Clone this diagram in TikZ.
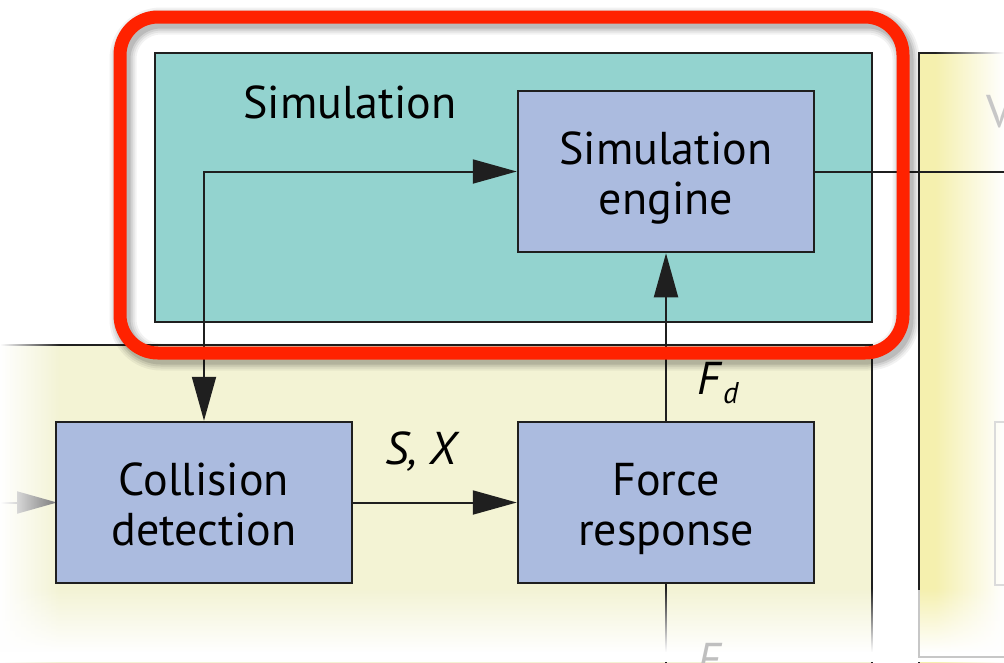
\documentclass[tikz,border=0pt]{standalone}
\usepackage{fontspec}
\setmainfont{PT Sans}
\usetikzlibrary{arrows.meta,fadings}

\definecolor{simteal}{HTML}{93D3CF}
\definecolor{boxblue}{HTML}{ABBBDF}
\definecolor{boxpale}{HTML}{CDD5E6}
\definecolor{lowyellow}{HTML}{F3F3D4}
\definecolor{sideyellow}{HTML}{F5F0AE}
\definecolor{hilite}{HTML}{FF2200}

% block fill that lightens towards its left edge
\pgfdeclarehorizontalshading{leftpale}{100bp}{color(0bp)=(boxpale); color(3bp)=(boxpale); color(10bp)=(boxblue); color(100bp)=(boxblue)}

% two centred lines, set a little low in their box
\newcommand{\twolines}[2]{\raisebox{-8pt}[\height][\depth]{\begin{tabular}{@{}c@{}}#1\\#2\end{tabular}}}

\begin{document}
\begin{tikzpicture}[x=1pt,y=-1pt,
  block/.style={draw=black!88, line width=2.5pt, fill=boxblue,
    minimum width=296pt, minimum height=161pt, inner sep=0pt,
    font=\fontsize{46}{50}\selectfont},
  panelline/.style={draw=black!88, line width=2.5pt},
  conn/.style={draw=black!88, line width=2pt},
  bigtip/.tip={Triangle[length=44pt,width=24pt]},
  lbl/.style={font=\fontsize{46}{50}\selectfont}]

\useasboundingbox (0,0) rectangle (1004,662);
\clip (0,0) rectangle (1004,662);
\fill[white] (0,0) rectangle (1004,662);

% lower (yellow) panel
\fill[lowyellow] (0,345) rectangle (872,700);
\draw[panelline] (0,345) -- (872,345) -- (872,700);
% right (yellow) panel
\fill[sideyellow] (919,53) rectangle (1100,700);
\draw[panelline] (1100,53) -- (919,53) -- (919,700);

% incoming connector on the left
\coordinate (inL) at (0,502.5);
\coordinate (inR) at (57,502.5);
\draw[draw=black!55, line width=2pt, -{Triangle[length=40pt,width=22pt]}, color=black!55] (inL) -- (inR);

% soft edges of the panels
\fill[white, path fading=east] (0,340) rectangle (60,700);
\fill[white, path fading=west] (935,40) rectangle (1004,700);

% simulation panel
\node[draw=black!88, line width=2.5pt, fill=simteal, minimum width=717pt,
  minimum height=269pt, inner sep=0pt] (sim) at (513.5,187.5) {};
\node[lbl] (simlbl) at (350,102) {Simulation};

% blocks
\node[block] (engine) at (666,171.5) {\twolines{Simulation}{engine}};
\node[block, shade, shading=leftpale] (coll) at (204,502.5) {\twolines{Collision}{detection}};
\node[block] (force) at (666,502.5) {\twolines{Force}{response}};

% connectors
\coordinate (outR) at (1010,171.5);
\coordinate (down) at (666,700);
\draw[conn, {bigtip}-{bigtip}] (coll.north) |- (engine.west);
\draw[conn, -{bigtip}] (coll.east) -- (force.west);
\draw[conn, -{bigtip}] (force.north) -- (engine.south);
\draw[conn] (engine.east) -- (outR);
\draw[conn] (force.south) -- (down);

\node[lbl, font=\fontsize{46}{50}\selectfont\itshape] (sx) at (421,452) {S, X};
\node[lbl] (fd) at (718,383) {\textit{F}\raisebox{-0.4ex}{\fontsize{30}{30}\selectfont\itshape d}};

% fade towards the lower edge
\fill[white, path fading=north] (0,588) rectangle (1004,652);
\fill[white] (0,652) rectangle (1004,662);
\draw[black!22, line width=2pt] (919,590) -- (919,657) -- (1010,657);
\draw[black!14, line width=2pt] (1040,422) -- (995,422) -- (995,585) -- (1040,585);
\node[lbl, text=black!22] (vlbl) at (1000,112) {V};
\node[lbl, text=black!25] (fs) at (718,664) {\textit{F}\raisebox{-0.4ex}{\fontsize{30}{30}\selectfont\itshape d}};

% highlight frame with a soft shadow
\foreach \w/\o in {27/0.05,23/0.06,19/0.08,15/0.1}{
  \draw[black, opacity=\o, line width=\w pt, rounded corners=38pt]
    (123,21) rectangle (906,357);
}
\draw[hilite, line width=13pt, rounded corners=38pt] (120,17) rectangle (903,353);
\end{tikzpicture}
\end{document}
